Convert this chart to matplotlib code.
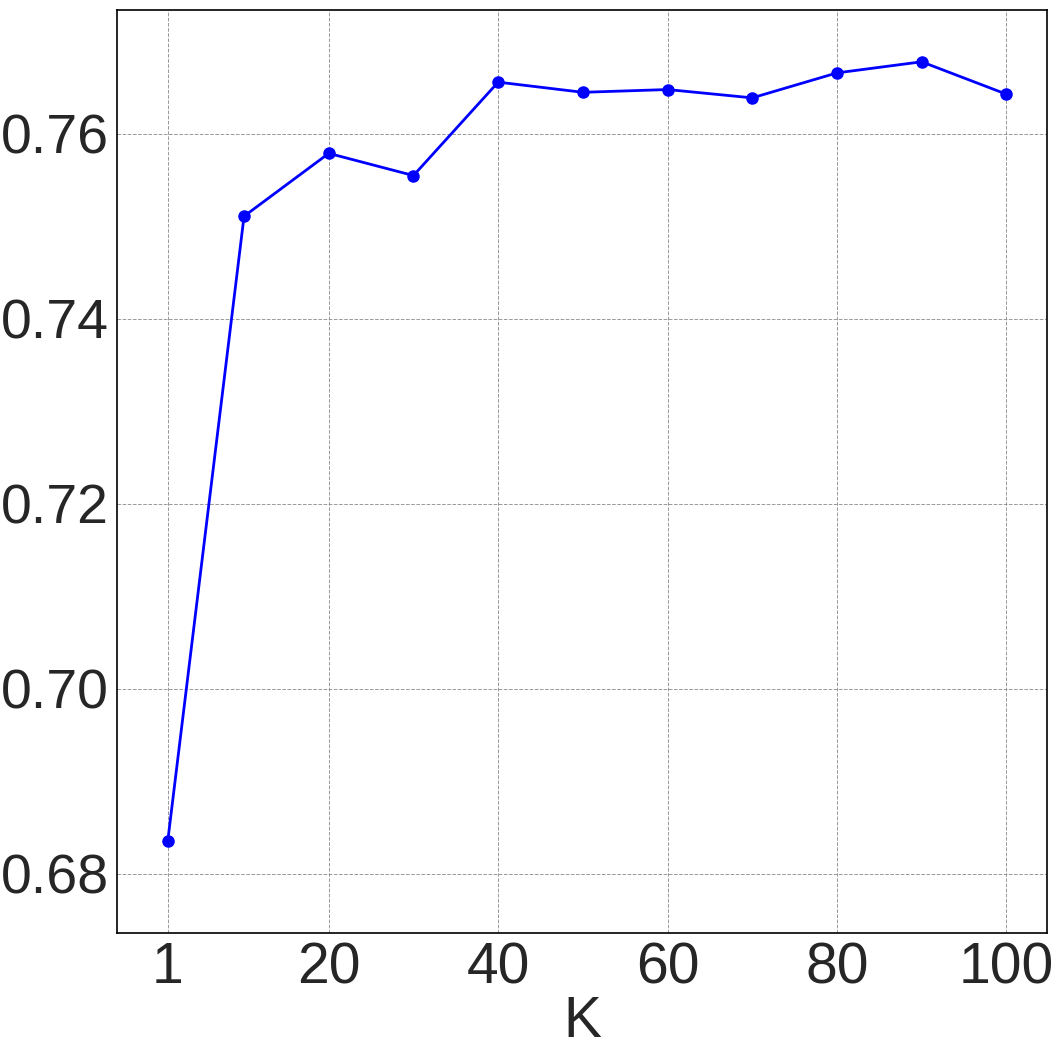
import numpy as np
import matplotlib.pyplot as plt
import seaborn as sns

k_values = [1, 10, 20, 30, 40, 50, 60, 70, 80, 90, 100]
scores = [0.6836, 0.7511, 0.7579, 0.7555, 0.7656, 0.7645, 0.7648, 0.7639, 0.7666, 0.7678, 0.7643]
x_ticks = [1, 20, 40, 60, 80, 100]
y_ticks = [0.68, 0.70, 0.72, 0.74, 0.76]

sns.set_style('white')
plt.rcParams['font.family'] = ['Liberation Sans', 'DejaVu Sans']

fig = plt.figure(figsize=(10.61, 10.61), dpi=100)
ax = fig.add_axes([117 / 1061, 1 - 933 / 1061, (1047 - 117) / 1061, (933 - 10) / 1061])

ax.plot(k_values, scores, color='blue', marker='o', markersize=8, linewidth=2)

ax.set_xlim(-5, 104.8)
ax.set_ylim(0.6736, 0.7734)
ax.set_xticks(x_ticks)
ax.set_yticks(y_ticks)
ax.set_yticklabels(['%.2f' % v for v in y_ticks])
ax.tick_params(labelsize=41, colors='#262626', length=0)
ax.tick_params(axis='y', pad=6, labelsize=40)
ax.tick_params(axis='x', pad=6)
ax.set_xlabel('K', fontsize=41, color='#262626', labelpad=0)

ax.grid(True, color='gray', linestyle='--', linewidth=0.7, alpha=0.8)
for s in ax.spines.values():
    s.set_color('black')
    s.set_linewidth(1.2)

fig.savefig('out.png', dpi=100)
